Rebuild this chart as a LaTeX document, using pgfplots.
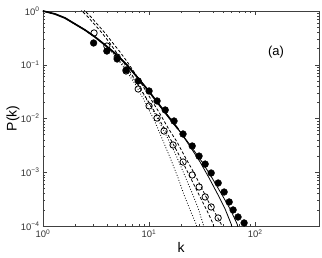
\documentclass[border=0pt]{standalone}
\usepackage{fontspec}
\setmainfont{Liberation Sans}
\usepackage{pgfplots}
\pgfplotsset{compat=1.18}
\begin{document}
\begin{tikzpicture}
\useasboundingbox (-43bp,-32bp) rectangle (279bp,226bp);
\begin{loglogaxis}[
 at={(0,0)}, anchor=south west,
 scale only axis, width=276bp, height=215bp,
 xmin=1, xmax=400, ymin=1e-4, ymax=1,
 axis line style={black!75},
 every tick/.style={black!75, line width=0.4pt},
 major tick length=4bp, minor tick length=2bp,
 xtick={1,10,100},
 xticklabels={10\textsuperscript{0},10\textsuperscript{1},10\textsuperscript{2}},
 ytick={1e-4,1e-3,1e-2,1e-1,1},
 yticklabels={10\textsuperscript{−4},10\textsuperscript{−3},10\textsuperscript{−2},10\textsuperscript{−1},10\textsuperscript{0}},
 tick label style={font=\fontsize{9.5}{10}\selectfont, text=black!80},
 xlabel={k}, ylabel={P(k)},
 label style={font=\fontsize{14}{16}\selectfont},
 xlabel style={at={(axis description cs:0.5,-0.098)}, anchor=center},
 ylabel style={at={(axis description cs:-0.109,0.5)}, anchor=center},
 clip=true,
]
% thick overlapped upper part
\addplot[black, line width=1.7pt] coordinates {
(1,1) (1.298,0.8794) (1.613,0.7410) (2.004,0.5729) (2.490,0.4431) (3.095,0.3282) (3.845,0.2330) (4.991,0.1518) (6.201,0.0989) (7.707,0.0592) (9.575,0.0354) (11.90,0.02028) (14.78,0.01162) (18.78,0.00638)};
% solid A
\addplot[black, line width=0.8pt] coordinates {
(1,1) (1.298,0.8794) (1.613,0.7410) (2.004,0.5729) (2.490,0.4431) (3.095,0.3282) (3.845,0.2330) (4.991,0.1518) (6.201,0.0989) (7.707,0.0592) (9.575,0.0354) (11.90,0.02028) (14.78,0.01162) (18.78,0.00638) (23.85,0.00321) (30.28,0.00155) (36.81,0.000782) (44.77,0.000377) (52.12,0.000207) (59.38,0.000109) (61,0.00009)};
% solid B
\addplot[black, line width=0.8pt] coordinates {
(1,1) (1.298,0.8794) (1.613,0.7410) (2.004,0.5729) (2.490,0.4431) (3.095,0.3282) (3.845,0.2330) (4.991,0.1518) (6.201,0.0989) (7.707,0.0592) (9.575,0.0354) (11.90,0.02028) (14.78,0.01162) (18.78,0.00638) (24.37,0.00321) (31.62,0.00155) (39.29,0.000782) (48.83,0.000377) (58.10,0.000207) (67.64,0.000109) (69.5,0.00009)};
% dashed 1
\addplot[black, line width=0.8pt, dash pattern=on 3bp off 2bp] coordinates {
(2.234,1.137) (2.333,1) (2.658,0.7730) (3.095,0.5489) (3.603,0.3897) (4.195,0.2650) (4.884,0.1726) (5.810,0.1078) (6.913,0.0645) (8.226,0.0369) (9.786,0.02116) (11.64,0.01213) (13.85,0.00666) (16.48,0.00365) (19.61,0.00192) (23.33,0.000968) (27.76,0.000488) (32.31,0.000268) (36.03,0.000175) (40.18,0.000109) (41,0.00009)};
% dashed 2
\addplot[black, line width=0.8pt, dash pattern=on 3bp off 2bp] coordinates {
(2.39,1.137) (2.490,1) (2.837,0.7730) (3.303,0.5489) (3.845,0.3897) (4.477,0.2650) (5.326,0.1726) (6.338,0.1078) (7.541,0.0645) (8.972,0.0369) (10.67,0.02116) (12.70,0.01213) (15.11,0.00666) (18.37,0.00365) (21.86,0.00192) (26.58,0.000968) (31.62,0.000488) (36.81,0.000268) (41.95,0.000175) (47.78,0.000109) (49,0.00009)};
% dotted 1
\addplot[black, line width=1.1pt, line cap=round, dash pattern=on 0.1bp off 2.6bp] coordinates {
(1,1) (1.298,0.8794) (1.613,0.7410) (2.004,0.5729) (2.490,0.4431) (3.095,0.3282) (3.845,0.2330) (4.778,0.1455) (5.937,0.0833) (7.379,0.0438) (9.170,0.02028) (11.39,0.00861) (13.56,0.00381) (16.12,0.00169) (18.78,0.000782) (21.39,0.000377) (24.37,0.000199) (27.76,0.000109) (28.3,0.00009)};
% dotted 2
\addplot[black, line width=1.1pt, line cap=round, dash pattern=on 0.1bp off 2.6bp] coordinates {
(1,1) (1.298,0.8794) (1.613,0.7410) (2.004,0.5729) (2.490,0.4431) (3.095,0.3282) (3.845,0.2330) (4.778,0.1518) (5.937,0.0908) (7.379,0.0498) (9.170,0.02512) (11.39,0.01213) (14.16,0.00537) (17.59,0.00228) (21.39,0.000928) (25.45,0.000411) (29.00,0.000216) (32.31,0.000109) (33,0.00009)};
% open circles
\addplot[only marks, mark=o, mark size=3.2bp, mark options={draw=black, line width=0.8pt, fill=none}] coordinates {
(3.03,0.390) (4.0,0.223) (5.0,0.139) (6.07,0.0765) (7.9,0.0354) (10,0.0171) (11.9,0.0102) (13.85,0.00585) (16.84,0.00321) (20.94,0.00155) (25.5,0.000889) (29.64,0.000532) (33.8,0.000347) (38.5,0.000226) (44.8,0.000141)};
% filled circles
\addplot[only marks, mark=*, mark size=3.4bp, mark options={draw=black, fill=black}] coordinates {
(3,0.254) (4,0.180) (5,0.128) (6.07,0.0798) (7.9,0.0499) (10,0.0325) (11.9,0.0212) (14.2,0.0144) (17.2,0.00898) (20.9,0.00515) (25.5,0.00308) (29.6,0.00200) (33.8,0.00142) (38.5,0.000968) (44.8,0.000631) (51,0.000429) (56.9,0.000280) (62,0.000199) (69,0.000147) (78.7,0.000114)};
\node[font=\fontsize{13}{15}\selectfont] at (rel axis cs:0.844,0.809) {(a)};
\end{loglogaxis}
\end{tikzpicture}
\end{document}
